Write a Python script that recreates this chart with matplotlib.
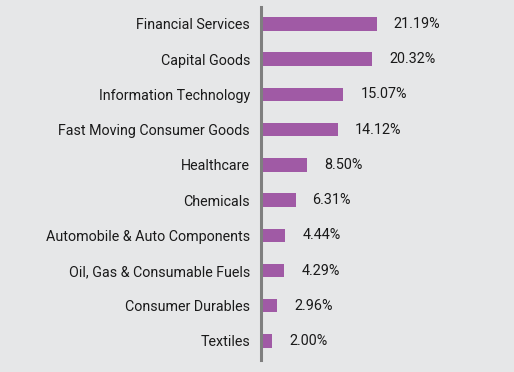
import matplotlib
matplotlib.use("Agg")
import matplotlib.pyplot as plt

categories = ["Financial Services", "Capital Goods", "Information Technology",
              "Fast Moving Consumer Goods", "Healthcare", "Chemicals",
              "Automobile & Auto Components", "Oil, Gas & Consumable Fuels",
              "Consumer Durables", "Textiles"]
values = [21.19, 20.32, 15.07, 14.12, 8.50, 6.31, 4.44, 4.29, 2.96, 2.00]

bg = "#e6e7e8"
bar_color = "#a05aa5"
plt.rcParams['font.family'] = ['Roboto', 'DejaVu Sans']

fig = plt.figure(figsize=(5.14, 3.72), dpi=100, facecolor=bg)
ax = fig.add_axes([261/514, 12/372, 253/514, 353/372], facecolor=bg)

ypos = list(range(len(categories)))
ax.barh(ypos, values, height=0.38, color=bar_color, left=0)
ax.set_xlim(0, 253/5.47)
ax.set_ylim(9.54, -0.48)

for y, v in zip(ypos, values):
    ax.text(v + 3.1, y, f"{v:.2f}%", va="center", ha="left", fontsize=10.4, color="#1a1a1a")

ax.set_yticks(ypos)
ax.set_yticklabels(categories, fontsize=10.3, color="#1a1a1a")
ax.tick_params(axis='y', length=0, pad=8)
ax.set_xticks([])
for s in ["top", "right", "bottom"]:
    ax.spines[s].set_visible(False)
ax.spines["left"].set_color("#7f7f7f")
ax.spines["left"].set_linewidth(2.2)

fig.savefig("out.png", dpi=100, facecolor=bg)
